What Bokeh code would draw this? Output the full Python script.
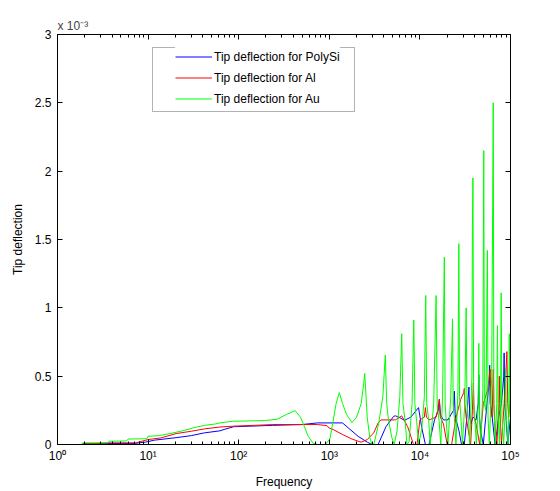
from bokeh.plotting import figure
from bokeh.models import FixedTicker, LogAxis, LinearAxis, Range1d, BoxAnnotation
from bokeh.embed import file_html
from bokeh.resources import INLINE

# ---- data (values in units of 1e-3) ----
freq_si = [1, 1.84, 2.0, 3.6, 7.0, 9.3, 11.8, 20.4, 30, 41.7,
           62, 69, 88, 236, 500, 740, 1400, 1630, 2080, 2630,
           2950, 3460, 4220, 5130, 5370, 6030, 6760, 7940, 9660, 10500,
           11500, 12600, 14500, 16000, 16400, 16800, 18200, 20400, 23500, 24000,
           24500, 25100, 27000, 28800, 30900, 33000, 33900, 34800, 35500, 36500,
           38500, 41700, 44000, 44700, 45500, 46800, 50100, 55000, 58200, 58900,
           59600, 61700, 67600, 74100, 79400, 84300, 85100, 85900, 89100, 93300,
           100000]
val_si = [0, 0, 0.007, 0.007, 0.008, 0.017, 0.032, 0.05, 0.065, 0.085,
          0.1, 0.11, 0.13, 0.14, 0.146, 0.158, 0.158, 0.12, 0.06, 0.017,
          0, 0, 0.13, 0.206, 0.21, 0.195, 0.177, 0.2, 0.27, 0.12,
          0, 0, 0.18, 0.25, 0.33, 0.22, 0.18, 0.18, 0.25, 0.39,
          0.22, 0.18, 0.1, 0, 0, 0.2, 0.33, 0.42, 0.2, 0.15,
          0.2, 0.18, 0.3, 0.51, 0.2, 0.1, 0, 0.3, 0.45, 0.58,
          0.3, 0.25, 0, 0.2, 0.3, 0.5, 0.67, 0.3, 0.2, 0,
          0.2]

freq_al = [1, 1.84, 2.0, 3.6, 7.3, 10, 13.8, 20.4, 30, 41.7,
           62, 88, 245, 740, 940, 1000, 1100, 1400, 1780, 2080,
           2240, 2630, 3090, 3460, 3720, 5370, 6300, 7330, 7940, 8500,
           9300, 10000, 11200, 11500, 11800, 12600, 15100, 16000, 16400, 16800,
           18200, 20000, 22400, 25100, 28200, 30500, 30900, 31300, 32400, 36300,
           38000, 38900, 39800, 41700, 45700, 50100, 56000, 59600, 61000, 62700,
           64600, 65500, 68000, 70800, 74500, 75300, 76000, 79400, 85100, 88500,
           91200, 93300, 95500, 100000]
val_al = [0, 0, 0.004, 0.012, 0.012, 0.036, 0.048, 0.08, 0.097, 0.114,
          0.128, 0.134, 0.146, 0.146, 0.138, 0.12, 0.11, 0.073, 0.04, 0.024,
          0.017, 0.036, 0.085, 0.158, 0.18, 0.18, 0.21, 0.13, 0.06, 0,
          0, 0.18, 0.2, 0.27, 0.2, 0.18, 0.2, 0.28, 0.33, 0.2,
          0.15, 0, 0, 0.2, 0.33, 0.38, 0.41, 0.3, 0.2, 0,
          0.25, 0.45, 0.2, 0.15, 0, 0.3, 0.4, 0.55, 0.25, 0.2,
          0.55, 0.3, 0.1, 0, 0.3, 0.5, 0.3, 0, 0.3, 0.5,
          0.68, 0.3, 0.2, 0.35]

freq_au = [1, 1.84, 1.9, 3.6, 3.7, 5.8, 6.0, 9.7, 10, 13.3,
           17.5, 24, 33, 42, 55, 62, 85, 120, 194, 265,
           337, 420, 480, 520, 585, 660, 740, 900, 1016, 1190,
           1290, 1400, 1550, 1780, 2000, 2250, 2400, 2460, 2520, 2620,
           2800, 2950, 3100, 3500, 3900, 4150, 4300, 4500, 4900, 5200,
           5600, 6000, 6300, 6500, 6900, 7200, 7600, 8200, 8560, 8800,
           9200, 9700, 10500, 11200, 11600, 11900, 12500, 13000, 14200, 15100,
           15500, 16300, 17000, 17800, 18600, 19000, 19600, 20400, 21900, 22900,
           23300, 24300, 25000, 26300, 26900, 27400, 28600, 29500, 31300, 32400,
           33100, 34700, 35500, 37500, 38000, 38500, 39200, 41000, 42000, 44000,
           44700, 45500, 47000, 49500, 50700, 51500, 53500, 55600, 56500, 58500,
           62000, 64500, 65500, 68000, 70500, 71800, 73000, 75500, 77800, 78900,
           80500, 84000, 87500, 88500, 90000, 94000, 96000, 97000, 98500, 100000]
val_au = [0, 0, 0.012, 0.012, 0.024, 0.026, 0.04, 0.042, 0.06, 0.065,
          0.08, 0.1, 0.125, 0.14, 0.15, 0.158, 0.17, 0.172, 0.175, 0.185,
          0.22, 0.248, 0.2, 0.146, 0.06, 0.01, 0, 0, 0.04, 0.3,
          0.38, 0.3, 0.22, 0.16, 0.2, 0.3, 0.45, 0.52, 0.4, 0.2,
          0.05, 0, 0, 0.15, 0.35, 0.655, 0.3, 0.18, 0.05, 0,
          0.1, 0.35, 0.81, 0.3, 0.16, 0, 0.02, 0.3, 0.91, 0.3,
          0.17, 0, 0.12, 0.35, 1.09, 0.3, 0.18, 0, 0.3, 1.09,
          0.3, 0.17, 0, 0.35, 1.37, 0.3, 0.15, 0, 0.35, 0.92,
          0.3, 0.15, 0, 0.4, 1.47, 0.35, 0.15, 0, 0.3, 1.0,
          0.3, 0.15, 0, 0.5, 1.6, 1.95, 0.3, 0.12, 0, 0.3,
          0.74, 0.2, 0, 0.4, 2.15, 0.3, 0.25, 1.42, 0.2, 0,
          0.5, 2.5, 0.3, 0, 0.3, 0.87, 0.2, 0, 0.4, 1.11,
          0.2, 0, 0.25, 0.55, 0.2, 0, 0.3, 0.81, 0.25, 0.2]

labels = ["Tip deflection for PolySi", "Tip deflection for Al", "Tip deflection for Au"]
colors = ["#0000ff", "#ff0000", "#00ff00"]

x_ticks = [1, 10, 100, 1000, 10000, 100000]
x_tick_labels = ["10⁰", "10¹", "10²", "10³", "10⁴", "10⁵"]
x_minor = [m * d for d in [1, 10, 100, 1000, 10000] for m in range(2, 10)]
y_ticks = [0, 0.5, 1, 1.5, 2, 2.5, 3]
y_tick_labels = ["0", "0.5", "1", "1.5", "2", "2.5", "3"]

FONT = "Liberation Sans"
FS = "12px"

p = figure(width=560, height=491, x_axis_type="log",
           x_range=Range1d(1, 1e5), y_range=Range1d(0, 3),
           output_backend="svg", toolbar_location=None,
           min_border_left=57, min_border_right=50,
           min_border_top=34, min_border_bottom=46)
p.background_fill_color = "white"
p.border_fill_color = "white"
p.outline_line_color = "black"
p.xgrid.visible = False
p.ygrid.visible = False

p.title.text = "x 10⁻³"
p.title.align = "left"
p.title.offset = 0
p.title.standoff = 4
p.title.text_font = FONT
p.title.text_font_size = FS
p.title.text_font_style = "normal"

for xs, ys, c, lab in zip([freq_si, freq_al, freq_au], [val_si, val_al, val_au], colors, labels):
    p.line(xs, ys, line_color=c, line_width=1, legend_label=lab)


def style_axis(ax):
    ax.axis_line_color = "black"
    ax.major_tick_line_color = "black"
    ax.minor_tick_line_color = "black"
    ax.major_tick_in = 5
    ax.major_tick_out = 0
    ax.minor_tick_in = 3
    ax.minor_tick_out = 0
    ax.major_label_text_font = FONT
    ax.major_label_text_font_size = FS
    ax.major_label_text_color = "black"
    ax.axis_label_text_font = FONT
    ax.axis_label_text_font_size = FS
    ax.axis_label_text_font_style = "normal"
    ax.axis_label_text_color = "black"


xa = p.xaxis[0]
xa.ticker = FixedTicker(ticks=x_ticks, minor_ticks=x_minor)
xa.major_label_overrides = dict(zip(x_ticks, x_tick_labels))
style_axis(xa)
xa.major_label_standoff = 4
xa.axis_label = "Frequency"
xa.axis_label_standoff = 9

ya = p.yaxis[0]
ya.ticker = FixedTicker(ticks=y_ticks, minor_ticks=[])
ya.major_label_overrides = dict(zip(y_ticks, y_tick_labels))
style_axis(ya)
ya.major_label_standoff = 6
ya.axis_label = "Tip deflection"
ya.axis_label_standoff = 7

# box axes (ticks only) on top and right, as in the original
top = LogAxis(ticker=FixedTicker(ticks=x_ticks, minor_ticks=x_minor))
style_axis(top)
top.major_label_text_font_size = "1px"
top.major_label_standoff = 0
top.major_label_overrides = {t: "" for t in x_ticks}
p.add_layout(top, "above")

right = LinearAxis(ticker=FixedTicker(ticks=y_ticks, minor_ticks=[]))
style_axis(right)
right.major_label_text_font_size = "1px"
right.major_label_standoff = 0
right.major_label_overrides = {t: "" for t in y_ticks}
p.add_layout(right, "right")

leg = p.legend[0]
leg.location = (118, 335)
leg.padding = 0
leg.spacing = 0
leg.margin = 0
leg.glyph_width = 37
leg.glyph_height = 21
leg.label_height = 21
leg.label_standoff = 2
leg.label_text_font = FONT
leg.label_text_font_size = FS
leg.label_text_color = "black"
leg.border_line_color = None
leg.background_fill_color = "white"
leg.background_fill_alpha = 1.0

box = BoxAnnotation(left=152, right=354, top=47, bottom=111,
                    left_units="canvas", right_units="canvas",
                    top_units="canvas", bottom_units="canvas",
                    fill_alpha=0, line_color="black", line_width=1)
p.add_layout(box)

open("out.html", "w").write(file_html(p, INLINE))
